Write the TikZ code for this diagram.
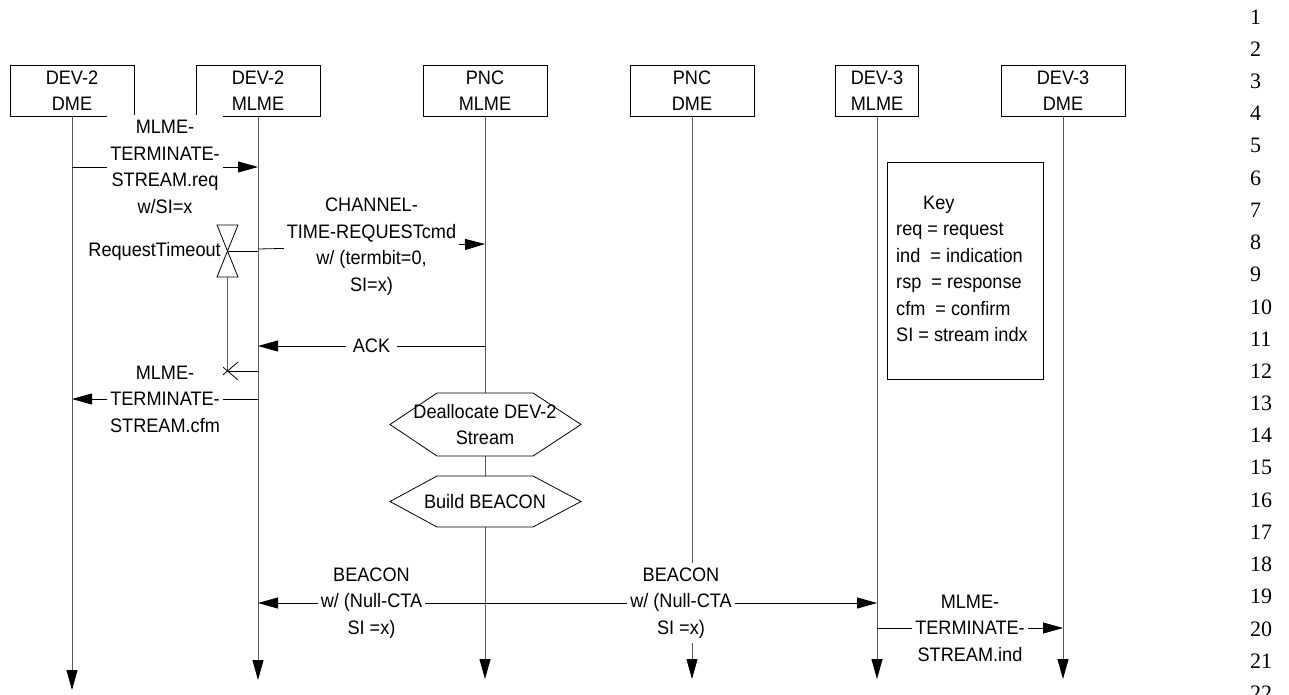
\documentclass[tikz,border=0pt]{standalone}
\usepackage{fontspec}
\setmainfont{Liberation Sans}[FakeStretch=0.93]
\newfontfamily\numfont{Liberation Serif}
\usetikzlibrary{arrows.meta, positioning, calc}

\begin{document}
\begin{tikzpicture}[x=1pt,y=-1pt,>={Triangle[length=20pt,width=11pt,color=black]},
    font=\fontsize{19.5}{26.5}\selectfont,
    entity/.style={draw,line width=0.8pt,minimum width=124pt,minimum height=51pt,align=center,inner sep=0pt},
    life/.style={->,line width=0.9pt,black!65},
    msg/.style={->,line width=0.8pt},
    lbl/.style={fill=white,align=center,inner xsep=3pt,inner ysep=5pt},
    hexa/.style={draw,fill=white,line width=0.8pt}]
\useasboundingbox (0,0) rectangle (1289,694);
% entities and life lines
\node[entity] (dev2dme) at (72,90.5) {DEV-2\\DME};
\node[entity] (dev2mlme) at (258,90.5) {DEV-2\\MLME};
\node[entity] (pncmlme) at (485,90.5) {PNC\\MLME};
\node[entity] (pncdme) at (692,90.5) {PNC\\DME};
\node[entity,minimum width=83pt] (dev3mlme) at (877,90.5) {DEV-3\\MLME};
\node[entity] (dev3dme) at (1063,90.5) {DEV-3\\DME};
\coordinate (dev2dme-end) at (72,690);
\coordinate (dev2mlme-end) at (258,680);
\coordinate (pncmlme-end) at (485,679);
\coordinate (pncdme-end) at (692,679);
\coordinate (dev3mlme-end) at (877,679);
\coordinate (dev3dme-end) at (1063,679);
\draw[life](dev2dme)--(dev2dme-end);
\draw[life](dev2mlme)--(dev2mlme-end);
\draw[life](pncmlme)--(pncmlme-end);
\draw[life](pncdme)--(pncdme-end);
\draw[life](dev3mlme)--(dev3mlme-end);
\draw[life](dev3dme)--(dev3dme-end);
% request and timer
\draw[msg](dev2dme |- 0,167)--node[lbl]{MLME-\\TERMINATE-\\STREAM.req\\w/SI=x}(dev2mlme |- 0,167);
\coordinate (timer) at (227.5,251);
\coordinate (expire) at (227.5,371);
\draw[line width=0.8pt](217,225)--(238,225)--(217,277)--(238,277)--cycle;
\node[anchor=east,inner sep=1pt] (timeout) at (222,251) {RequestTimeout};
\draw[line width=0.8pt](timer)--(dev2mlme |- timer);
\draw[line width=0.8pt,black!65](227.5,277)--(expire);
\draw[line width=0.8pt](expire)+(-10.5,-9)--+(10.5,9) (expire)+(-10.5,9)--+(10.5,-9);
\draw[line width=0.8pt](expire)--(dev2mlme |- expire);
\draw[msg](dev2mlme |- 0,249)--node[lbl]{CHANNEL-\\TIME-REQUESTcmd\\w/ (termbit=0,\\SI=x)}(pncmlme |- 0,244);
\draw[msg](pncmlme |- 0,346)--node[lbl,inner xsep=7pt]{ACK}(dev2mlme |- 0,346);
\draw[msg](dev2mlme |- 0,399)--node[lbl]{MLME-\\TERMINATE-\\STREAM.cfm}(dev2dme |- 0,399);
% PNC actions
\draw[hexa](390,424.5)--(437,393)--(533,393)--(581,424.5)--(533,456)--(437,456)--cycle;
\node[align=center,inner sep=0pt] (dealloc) at (485,424.5) {Deallocate DEV-2\\Stream};
\draw[hexa](390,501.5)--(437,476)--(533,476)--(581,501.5)--(533,527)--(437,527)--cycle;
\node[inner sep=0pt] (build) at (485,501.5) {Build BEACON};
% beacon
\draw[msg](pncmlme |- 0,603)--node[lbl]{BEACON\\w/ (Null-CTA\\SI =x)}(dev2mlme |- 0,603);
\draw[msg](pncmlme |- 0,603)--node[lbl]{BEACON\\w/ (Null-CTA\\SI =x)}(dev3mlme |- 0,603);
\draw[msg](dev3mlme |- 0,628)--node[lbl]{MLME-\\TERMINATE-\\STREAM.ind}(dev3dme |- 0,628);
% key
\node[draw,line width=0.8pt,minimum width=156pt,minimum height=217pt,anchor=north west] (key) at (887,162) {};
\node[anchor=north west,align=left,inner sep=0pt] (keytext) at (896,195.5) {\hspace{27pt}Key\\req = request\\ind\ \ = indication\\rsp\ \ = response\\cfm\ \ = confirm\\SI = stream indx};
% line numbers
\foreach \n in {1,...,22}
  \node[font=\numfont\fontsize{22}{24}\selectfont,anchor=west,inner sep=0pt] (ln\n) at (1250,{17+32.2*(\n-1)}) {\n};
\end{tikzpicture}
\end{document}
